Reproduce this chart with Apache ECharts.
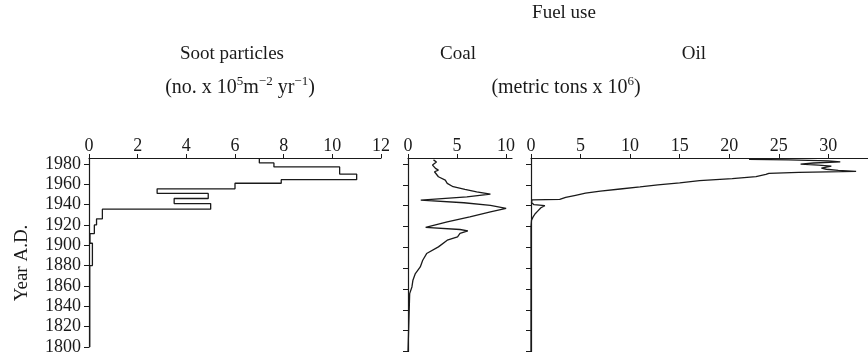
<!DOCTYPE html>
<html>
<head>
<meta charset="utf-8">
<script src="https://cdn.jsdelivr.net/npm/echarts@6/dist/echarts.min.js"></script>
<style>
  html, body { margin: 0; padding: 0; background: #fff; }
  #chart { width: 868px; height: 356px; }
</style>
</head>
<body>
<div id="chart"></div>
<script>
// Year ticks shared by the three profiles
const yearTicks = [1800, 1820, 1840, 1860, 1880, 1900, 1920, 1940, 1960, 1980];

// Soot particle flux, stepped by sample interval (top year, bottom year, value)
const sootTop    = [1985, 1981, 1977, 1970, 1964.5, 1961, 1955.5, 1951, 1946, 1941, 1935.5, 1926, 1920, 1911.5, 1902, 1880];
const sootBottom = [1981, 1977, 1970, 1964.5, 1961, 1955.5, 1951, 1946, 1941, 1935.5, 1926, 1920, 1911.5, 1902, 1880, 1800];
const sootValue  = [7.0, 7.6, 10.3, 11.0, 7.9, 6.0, 2.8, 4.9, 3.5, 5.0, 0.55, 0.31, 0.22, 0.04, 0.14, 0.03];
const sootTicks  = [0, 2, 4, 6, 8, 10, 12];

// Coal use (metric tons x 10^6)
const coalYears  = [1984, 1982, 1980.6, 1979, 1977.4, 1975.8, 1974.2, 1972.6, 1971, 1967.8, 1964.6, 1961.4, 1958.2, 1955.6, 1953.3, 1951.1, 1948.5, 1945.3, 1942.8, 1940.2, 1937.3, 1934.1, 1929.3, 1924.5, 1919.1, 1917.1, 1915.8, 1913.3, 1910, 1906.8, 1900.4, 1894, 1887.6, 1881.1, 1874.8, 1868.3, 1861.9, 1855.5, 1854, 1800];
const coalValues = [2.6, 2.9, 2.95, 2.5, 2.4, 2.8, 3.1, 2.7, 2.6, 3.1, 3.8, 4.0, 4.6, 5.8, 7.0, 8.4, 6.0, 1.3, 5.7, 8.4, 10.0, 8.4, 6.3, 4.0, 1.8, 5.3, 6.1, 5.3, 5.05, 4.0, 3.1, 1.9, 1.5, 1.25, 0.75, 0.5, 0.4, 0.17, 0, 0];
const coalTicks  = [0, 5, 10];

// Oil use (metric tons x 10^6)
const oilYears  = [1984.5, 1984, 1983, 1982, 1981, 1980, 1979, 1978, 1977, 1976, 1975, 1974, 1973, 1972, 1971, 1970, 1968, 1966, 1964, 1962, 1960, 1958, 1956, 1954, 1952, 1950, 1948, 1946, 1945.5, 1943, 1941, 1940, 1938, 1935, 1932, 1929, 1926, 1920, 1800];
const oilValues = [22, 26, 30, 31.2, 28.5, 27.2, 29, 30.3, 30.5, 29.3, 29.8, 31, 32.8, 27, 24, 23.7, 22.7, 20.3, 17, 15, 12.8, 11, 9, 7, 5.5, 4.5, 3.5, 2.9, 0.1, 0.05, 0.3, 1.4, 1.0, 0.7, 0.4, 0.2, 0.05, 0, 0];
const oilTicks  = [0, 5, 10, 15, 20, 25, 30];

const FONT = 'Liberation Serif';
const INK = '#1a1a1a';
const TICK_SIZE = 18;
const TITLE_SIZE = 19;
const UNIT_SIZE = 20;

// Stepped profile: each interval becomes a vertical segment at its value
const sootData = [];
sootValue.forEach((v, i) => {
  sootData.push([v, sootTop[i]]);
  sootData.push([v, sootBottom[i]]);
});
const coalData = coalYears.map((y, i) => [coalValues[i], y]);
const oilData = oilYears.map((y, i) => [oilValues[i], y]);

const GRID_TOP = 158;
const GRID_H = 193.4;
const Y_MIN = 1800, Y_MAX = 1985.8;

function xAxisFor(gridIndex, max, interval, ticks) {
  return {
    type: 'value', gridIndex, position: 'top', min: 0, max, interval,
    axisLine: { show: true, lineStyle: { color: INK, width: 1.2 } },
    axisTick: { show: true, inside: false, length: 4, customValues: ticks, lineStyle: { color: INK } },
    axisLabel: { show: true, customValues: ticks, margin: 3, fontFamily: FONT, fontSize: TICK_SIZE, color: INK,
                 formatter: v => String(v) },
    splitLine: { show: false }
  };
}
function yAxisFor(gridIndex, labels) {
  return {
    type: 'value', gridIndex, min: Y_MIN, max: Y_MAX, interval: 20,
    axisLine: { show: true, onZero: false, lineStyle: { color: INK, width: 1.2 } },
    axisTick: { show: true, length: 5, customValues: yearTicks, lineStyle: { color: INK } },
    axisLabel: { show: labels, customValues: yearTicks, margin: 8, fontFamily: FONT, fontSize: TICK_SIZE, color: INK,
                 formatter: v => String(v) },
    splitLine: { show: false }
  };
}
function lineSeries(idx, data) {
  return {
    type: 'line', xAxisIndex: idx, yAxisIndex: idx, data,
    showSymbol: false, symbol: 'none', animation: false,
    lineStyle: { color: INK, width: 1.3 }
  };
}

const chart = echarts.init(document.getElementById('chart'), null, { renderer: 'canvas' });

const plainText = (x, y, text) => ({
  type: 'text', x, y,
  style: {
    text, fill: INK, font: TITLE_SIZE + 'px "' + FONT + '"',
    textAlign: 'center', textVerticalAlign: 'middle'
  }
});

// Unit lines: base text plus exponents lifted by bottom padding
const richSup = {
  b: { fontFamily: FONT, fontSize: UNIT_SIZE, lineHeight: 24, fill: INK, color: INK },
  s: { fontFamily: FONT, fontSize: 13, padding: [0, 0, 13, 0], fill: INK, color: INK }
};

chart.setOption({
  animation: false,
  backgroundColor: '#fff',
  grid: [
    { left: 89, top: GRID_TOP, width: 292, height: GRID_H },
    { left: 408, top: GRID_TOP, width: 104, height: GRID_H },
    { left: 531, top: GRID_TOP, width: 339, height: GRID_H }
  ],
  xAxis: [
    xAxisFor(0, 12, 2, sootTicks),
    xAxisFor(1, 10.6, 5, coalTicks),
    xAxisFor(2, 34, 5, oilTicks)
  ],
  yAxis: [yAxisFor(0, true), yAxisFor(1, false), yAxisFor(2, false)],
  series: [lineSeries(0, sootData), lineSeries(1, coalData), lineSeries(2, oilData)],
  graphic: [
    plainText(564, 13, 'Fuel use'),
    plainText(232, 54, 'Soot particles'),
    plainText(458, 54, 'Coal'),
    plainText(694, 54, 'Oil'),
    {
      type: 'text', x: 240, y: 88,
      style: {
        text: '{b|(no. x 10}{s|5}{b|m}{s|−2}{b| yr}{s|−1}{b|)}',
        rich: richSup, textAlign: 'center', textVerticalAlign: 'middle', fill: INK
      }
    },
    {
      type: 'text', x: 566, y: 88,
      style: {
        text: '{b|(metric tons x 10}{s|6}{b|)}',
        rich: richSup, textAlign: 'center', textVerticalAlign: 'middle', fill: INK
      }
    },
    {
      type: 'text', x: 22, y: 263, rotation: Math.PI / 2,
      style: { text: 'Year A.D.', fill: INK, font: TITLE_SIZE + 'px "' + FONT + '"', textAlign: 'center', textVerticalAlign: 'middle' }
    }
  ]
});
</script>
</body>
</html>
